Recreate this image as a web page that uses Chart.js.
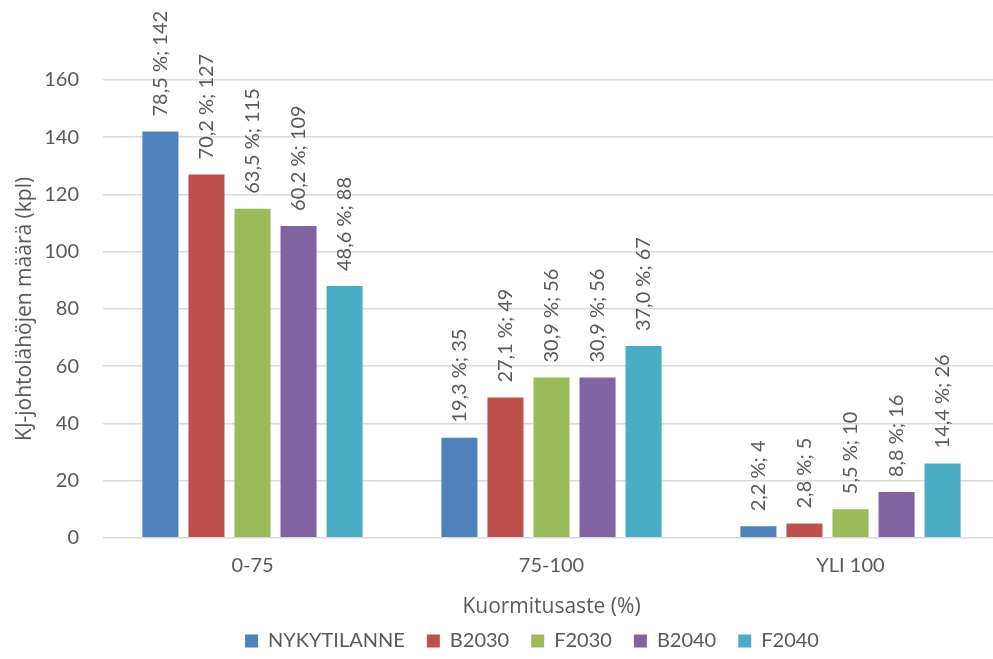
<!DOCTYPE html>
<html>
<head>
<meta charset="utf-8">
<script src="https://cdn.jsdelivr.net/npm/chart.js@4/dist/chart.umd.min.js"></script>
<style>
  html, body { margin: 0; padding: 0; background: #fff; overflow: hidden; }
  #wrap { width: 1000px; height: 659px; position: relative; }
</style>
</head>
<body>
<div id="wrap"><canvas id="c" width="1000" height="659"></canvas></div>
<script>
// Load classes (categories) and counts per scenario
const categories = ['0-75', '75-100', 'YLI 100'];
const seriesNames = ['NYKYTILANNE', 'B2030', 'F2030', 'B2040', 'F2040'];
const nykytilanne = [142, 35, 4];
const b2030 = [127, 49, 5];
const f2030 = [115, 56, 10];
const b2040 = [109, 56, 16];
const f2040 = [88, 67, 26];
// Share of each class within the scenario (%)
const nykytilannePct = [78.5, 19.3, 2.2];
const b2030Pct = [70.2, 27.1, 2.8];
const f2030Pct = [63.5, 30.9, 5.5];
const b2040Pct = [60.2, 30.9, 8.8];
const f2040Pct = [48.6, 37.0, 14.4];
const yTicks = [0, 20, 40, 60, 80, 100, 120, 140, 160];

const colors = ['#4F81BD', '#C0504D', '#9BBB59', '#8064A2', '#4BACC6'];
const values = [nykytilanne, b2030, f2030, b2040, f2040];
const shares = [nykytilannePct, b2030Pct, f2030Pct, b2040Pct, f2040Pct];

const FONT = 'Lato, "Open Sans", sans-serif';
const TITLE_FONT = '"Open Sans", Lato, sans-serif';
const TEXT = '#595959';
const LEGEND_HEIGHT = 35;
const LEGEND_TOP = 609;

// Rotated "share %; count" labels above each bar
const barLabels = {
  id: 'barLabels',
  afterDatasetsDraw(chart) {
    const ctx = chart.ctx;
    ctx.save();
    ctx.font = '20px ' + FONT;
    ctx.fillStyle = TEXT;
    ctx.textAlign = 'left';
    ctx.textBaseline = 'middle';
    chart.data.datasets.forEach((ds, di) => {
      chart.getDatasetMeta(di).data.forEach((bar, i) => {
        const txt = ds.shares[i].toFixed(1).replace('.', ',') + ' %; ' + ds.data[i];
        ctx.save();
        ctx.translate(bar.x, bar.y - 15);
        ctx.rotate(-Math.PI / 2);
        ctx.fillText(txt, 0, 0);
        ctx.restore();
      });
    });
    ctx.restore();
  }
};

// Keep the legend compact and centred under the bars
const legendPlace = {
  id: 'legendPlace',
  afterLayout(chart) {
    const lg = chart.legend;
    lg.left += 32;
    lg.right += 32;
    lg.top = LEGEND_TOP;
    lg.bottom = chart.height;
  }
};

const chart = new Chart(document.getElementById('c'), {
  type: 'bar',
  data: {
    labels: categories,
    datasets: seriesNames.map((name, k) => ({
      label: name,
      data: values[k],
      shares: shares[k],
      backgroundColor: colors[k],
      borderWidth: 0,
      barPercentage: 0.783,
      categoryPercentage: 0.77
    }))
  },
  options: {
    responsive: false,
    animation: false,
    layout: { padding: { top: 80, right: 0, left: 0, bottom: 0 } },
    plugins: {
      tooltip: { enabled: false },
      legend: {
        position: 'bottom',
        labels: {
          font: { family: FONT, size: 20 },
          color: TEXT,
          boxWidth: 13,
          boxHeight: 13,
          padding: 22
        }
      }
    },
    scales: {
      x: {
        grid: { display: false, drawTicks: false },
        border: { display: false },
        ticks: { font: { family: FONT, size: 20 }, color: TEXT, padding: 16 },
        title: {
          display: true,
          text: 'Kuormitusaste (%)',
          font: { family: TITLE_FONT, size: 21 },
          color: TEXT,
          padding: { top: 1, bottom: 4 }
        }
      },
      y: {
        min: 0,
        max: 160,
        afterBuildTicks(axis) { axis.ticks = yTicks.map(v => ({ value: v })); },
        afterFit(axis) { axis.width = 103; },
        grid: { color: '#D9D9D9', lineWidth: 1.5, drawTicks: false },
        border: { display: false },
        ticks: { font: { family: FONT, size: 20 }, color: TEXT, padding: 24 },
        title: {
          display: true,
          text: 'KJ-johtolähöjen määrä (kpl)',
          font: { family: TITLE_FONT, size: 21 },
          color: TEXT,
          padding: { top: 12, bottom: 0 }
        }
      }
    }
  },
  plugins: [barLabels, legendPlace]
});

// Shorter legend box than the default fit gives, so the plot keeps its height
const baseFit = chart.legend.fit;
chart.legend.fit = function () {
  baseFit.call(this);
  this.height = LEGEND_HEIGHT;
};
chart.update();
</script>
</body>
</html>
